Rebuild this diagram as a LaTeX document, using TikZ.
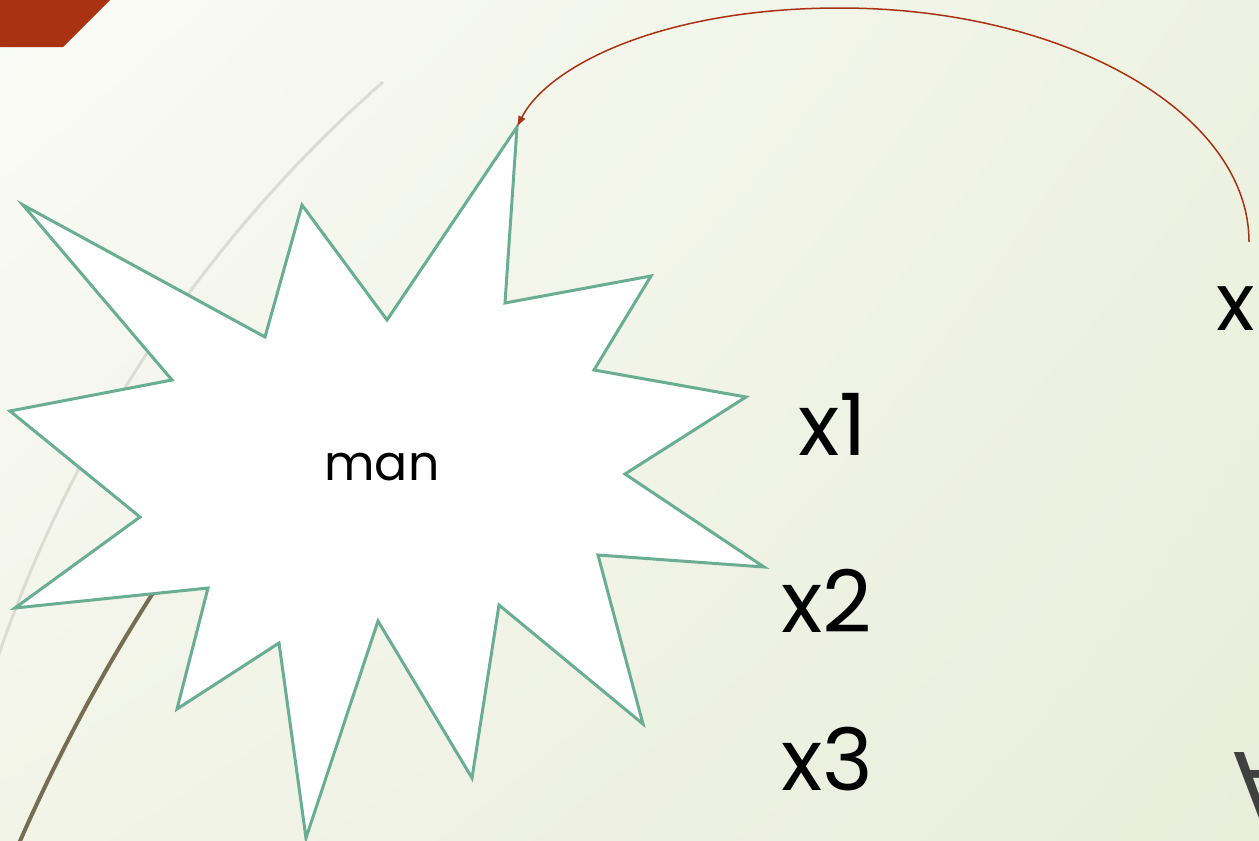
\documentclass[tikz,border=0pt]{standalone}
\usepackage{fontspec}
\setmainfont{Poppins}
\newfontfamily\symfont{DejaVu Sans}
\usepackage{xcolor}
\usetikzlibrary{arrows.meta,shadings}
\definecolor{rust}{HTML}{A83212}
\definecolor{burstgreen}{HTML}{69AE92}
\definecolor{paleline}{HTML}{DCDCD1}
\definecolor{mudline}{HTML}{776D52}
\definecolor{inkgray}{HTML}{404040}
\definecolor{bgnw}{HTML}{FAFBF6}
\definecolor{bgne}{HTML}{EEF2E2}
\definecolor{bgsw}{HTML}{F2F4E8}
\definecolor{bgse}{HTML}{E9EEDB}

\begin{document}
\begin{tikzpicture}[x=1pt, y=1pt,
  big/.style={font=\fontsize{86}{90}\selectfont, inner sep=0pt, anchor=base west},
  burst/.style={draw=burstgreen, line width=3pt, fill=white},
  link/.style={draw=rust, line width=1.5pt, -{Latex[length=11pt, width=8pt]}}]
\useasboundingbox (0,0) rectangle (1259,-841);
\clip (0,0) rectangle (1259,-841);
% background
\shade[upper left=bgnw, upper right=bgne, lower left=bgsw, lower right=bgse]
  (0,0) rectangle (1259,-841);
\fill[rust] (0,0) -- (110,0) -- (63,-47) -- (0,-47) -- cycle;
\draw[paleline, line width=3pt] (383,-82) arc[start angle=131.3, end angle=168, radius=1346];
\draw[mudline, line width=4pt] (153,-593) arc[start angle=147.3, end angle=158, radius=1782];
% the burst
\draw[burst] (517,-127) -- (505,-303) -- (651,-276) -- (594,-370) -- (746,-397)
  -- (625,-474) -- (764,-567) -- (598,-555) -- (643,-724) -- (499,-605)
  -- (472,-778) -- (378,-621) -- (306,-838) -- (279,-643) -- (177,-709)
  -- (208,-588) -- (15,-608) -- (140,-517) -- (10,-411) -- (172,-380)
  -- (23,-205) -- (265,-337) -- (302,-205) -- (387,-320) -- cycle;
\coordinate (apex) at (517,-127);
\node[inner sep=0pt, anchor=base, font=\fontsize{49}{52}\selectfont] (man) at (382,-480) {man};
% labels
\node[big] (x1) at (798,-455) {x1};
\node[big] (x2) at (781,-632) {x2};
\node[big] (x3) at (781,-790) {x3};
\node[big, font=\fontsize{80}{84}\selectfont] (xr) at (1216,-330) {x};
\node[inner sep=0pt, anchor=base west, text=inkgray, font=\symfont\fontsize{96}{100}\selectfont] (fa) at (1233,-822) {∀};
\coordinate (src) at (1249,-242);
\coordinate (top) at (840,-8);
\draw[link] (src) .. controls (1249,-113) and (1066,-8) .. (top)
  .. controls (660,-8) and (547,-67) .. (apex);
\end{tikzpicture}
\end{document}
